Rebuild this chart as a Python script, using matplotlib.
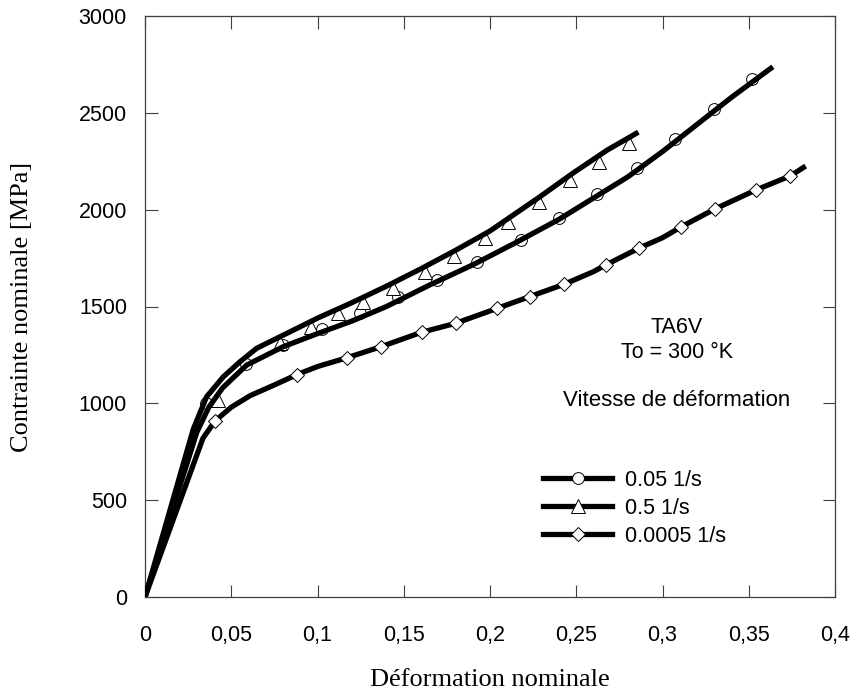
import matplotlib
matplotlib.use('Agg')
import matplotlib.pyplot as plt
from matplotlib.lines import Line2D
from matplotlib.ticker import FuncFormatter, MultipleLocator

# 0.5 1/s (triangles) - smoothed curve
x_tri_line = [0, 0.028, 0.0357, 0.0454, 0.0551, 0.0647, 0.0783, 0.1, 0.12, 0.14,
              0.16, 0.18, 0.2, 0.229, 0.248, 0.268, 0.286]
y_tri_line = [0, 867, 1034, 1137, 1215, 1284, 1344, 1440, 1520, 1605,
              1695, 1790, 1890, 2067, 2188, 2308, 2400]
x_tri = [0.0425, 0.0783, 0.096, 0.1121, 0.1266, 0.144, 0.1623, 0.1791, 0.1971,
         0.2106, 0.2286, 0.2464, 0.2634, 0.2807]
y_tri = [1017, 1313, 1393, 1465, 1525, 1594, 1680, 1761, 1855,
         1938, 2041, 2153, 2248, 2346]

# 0.05 1/s (circles)
x_circ_line = [0, 0.03, 0.037, 0.045, 0.059, 0.08, 0.1, 0.12, 0.14, 0.165,
               0.19, 0.215, 0.24, 0.26, 0.28, 0.3, 0.32, 0.34, 0.364]
y_circ_line = [0, 850, 980, 1080, 1198, 1292, 1360, 1425, 1500, 1611,
               1715, 1830, 1950, 2060, 2170, 2300, 2440, 2580, 2738]
x_circ = [0.0354, 0.0586, 0.0802, 0.1024, 0.1246, 0.1469, 0.1694, 0.1923,
          0.2178, 0.2402, 0.2622, 0.285, 0.3072, 0.3299, 0.3517]
y_circ = [1003, 1205, 1299, 1382, 1468, 1551, 1637, 1728,
          1843, 1959, 2079, 2215, 2363, 2520, 2675]

# 0.0005 1/s (diamonds)
x_dia_line = [0, 0.0336, 0.0406, 0.05, 0.061, 0.075, 0.088, 0.1, 0.117, 0.137,
              0.16, 0.18, 0.204, 0.223, 0.243, 0.26, 0.267, 0.287, 0.3, 0.311,
              0.33, 0.354, 0.374, 0.383]
y_dia_line = [0, 820, 909, 980, 1040, 1095, 1148, 1190, 1235, 1293,
              1366, 1413, 1490, 1551, 1615, 1680, 1714, 1804, 1855, 1912,
              2002, 2101, 2174, 2225]
x_dia = [0.0406, 0.0879, 0.1169, 0.1370, 0.1604, 0.180, 0.2043, 0.2232,
         0.2431, 0.2671, 0.2866, 0.3107, 0.3304, 0.3542, 0.3739]
y_dia = [909, 1146, 1236, 1292, 1366, 1413, 1490, 1551,
         1615, 1714, 1804, 1912, 2002, 2101, 2174]

labels = ['0.05 1/s', '0.5 1/s', '0.0005 1/s']

SANS = ['Liberation Sans', 'DejaVu Sans']
SERIF = ['Liberation Serif', 'DejaVu Serif']
AXC = '#404040'

fig = plt.figure(figsize=(8.5, 6.93), dpi=100)
ax = fig.add_axes([145 / 850, 96 / 693, 690 / 850, 581 / 693])

LW = 3.8
MK_C = dict(marker='o', ms=8.5, mfc='white', mec='black', mew=0.7)
MK_T = dict(marker='^', ms=9.5, mfc='white', mec='black', mew=0.7)
MK_D = dict(marker='D', ms=7.5, mfc='white', mec='black', mew=0.7)

# circles and triangles sit under the lines, diamonds on top
ax.plot(x_circ, y_circ, ls='none', zorder=2, **MK_C)
ax.plot(x_tri, y_tri, ls='none', zorder=2, **MK_T)
ax.plot(x_circ_line, y_circ_line, '-', color='black', lw=LW, zorder=3,
        solid_capstyle='butt')
ax.plot(x_tri_line, y_tri_line, '-', color='black', lw=LW, zorder=3,
        solid_capstyle='butt')
ax.plot(x_dia_line, y_dia_line, '-', color='black', lw=LW, zorder=3,
        solid_capstyle='butt')
ax.plot(x_dia, y_dia, ls='none', zorder=4, **MK_D)

ax.set_xlim(0, 0.4)
ax.set_ylim(0, 3000)
ax.xaxis.set_major_locator(MultipleLocator(0.05))
ax.yaxis.set_major_locator(MultipleLocator(500))
ax.xaxis.set_major_formatter(
    FuncFormatter(lambda v, p: ('%g' % round(v, 3)).replace('.', ',')))

for s in ax.spines.values():
    s.set_color(AXC)
    s.set_linewidth(0.9)
ax.tick_params(direction='in', length=9, width=0.8, color=AXC,
               top=True, right=True, labelsize=15.5)
ax.tick_params(axis='y', pad=13)
ax.tick_params(axis='x', pad=20)
for t in ax.get_xticklabels() + ax.get_yticklabels():
    t.set_family(SANS)

ax.set_xlabel('Déformation nominale', family=SERIF, fontsize=19, va='center')
ax.set_ylabel('Contrainte nominale [MPa]', family=SERIF, fontsize=19)
ax.xaxis.set_label_coords(0.5, -0.143)
ax.yaxis.set_label_coords(-0.162, 0.5)

ax.text(0.3084, 1389, 'TA6V', ha='center', va='center', family=SANS, fontsize=15.5)
ax.text(0.3084, 1260, 'To = 300 °K', ha='center', va='center', family=SANS, fontsize=15.5)
ax.text(0.3084, 1017, 'Vitesse de déformation', ha='center', va='center',
        family=SANS, fontsize=16)

handles = [
    Line2D([], [], color='black', lw=LW, **MK_C),
    Line2D([], [], color='black', lw=LW, **MK_T),
    Line2D([], [], color='black', lw=LW, **MK_D),
]
ax.legend(handles, labels, loc='upper left', bbox_to_anchor=(0.577, 0.219),
          frameon=False, borderpad=0, borderaxespad=0, handlelength=3.2,
          handletextpad=0.6, labelspacing=0.32, numpoints=1,
          prop={'family': SANS, 'size': 15.5})

fig.savefig('out.png', dpi=100)
